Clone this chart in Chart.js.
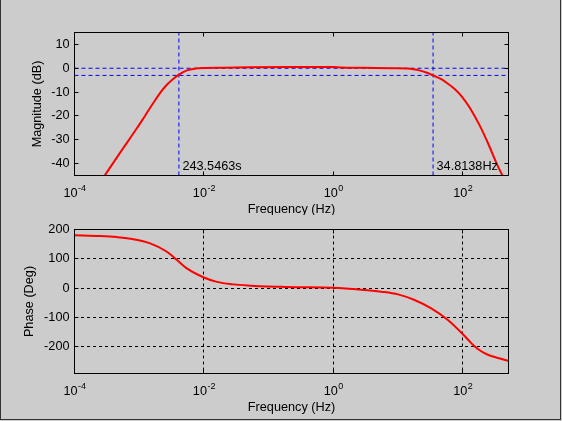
<!DOCTYPE html>
<html>
<head>
<meta charset="utf-8">
<script src="https://cdn.jsdelivr.net/npm/chart.js@4.4.0/dist/chart.umd.min.js"></script>
<style>
  html, body { margin: 0; padding: 0; background: #cccccc; }
  #fig { position: relative; width: 562px; height: 421px; overflow: hidden; background: #cccccc; }
  #fig canvas { position: absolute; left: 0; }
  #frame {
    position: absolute; left: 0; top: 0; width: 561px; height: 420px; box-sizing: border-box;
    border-left: 1px solid #333; border-right: 1px solid #333; border-bottom: 1px solid #333;
  }
</style>
</head>
<body>
<div id="fig">
  <canvas id="mag" width="562" height="215" style="top:0"></canvas>
  <canvas id="phase" width="562" height="206" style="top:215px"></canvas>
  <div id="frame"></div>
</div>
<script>
// Bode plot of a band-pass filter.

const magFreq = [0.00028, 0.000508, 0.00092, 0.00124, 0.00166, 0.00215, 0.00268, 0.00335, 0.00405,
  0.00546, 0.00735, 0.0105, 0.02, 0.05, 0.2, 1, 1.3, 3, 8, 13.7, 17.4, 22, 28, 34.8, 45, 57, 76.6,
  97, 130, 186, 251, 339, 420];
const magDb = [-45.8, -35.4, -25.2, -19.8, -14.5, -10.0, -6.9, -4.5, -2.8,
  -0.9, -0.15, 0.1, 0.2, 0.45, 0.55, 0.5, 0.35, 0.2, 0.05, -0.1, -0.4, -1.0, -1.9, -3.0, -4.4, -6.2, -8.9,
  -11.9, -16.8, -24.4, -32.0, -40.3, -45.5];

const phaseFreq = [1e-4, 0.00025, 0.00045, 0.000817, 0.00148, 0.00268, 0.00383, 0.00546, 0.01, 0.0159,
  0.0287, 0.052, 0.094, 0.157, 0.267, 1, 2.7, 5.5, 10, 18, 32.6, 59, 100, 130, 152, 193, 245, 350, 513];
const phaseDeg = [180, 177.5, 174, 167, 152.5, 124, 96, 67, 36, 21,
  12.5, 8, 5, 4, 3, 1, -5.6, -12.5, -21.7, -41, -69.6, -109, -157, -184, -199, -216, -228, -239, -249];

const xTicks = [1e-4, 1e-2, 1e0, 1e2];
const magTicks = [-40, -30, -20, -10, 0, 10];
const phaseTicks = [-200, -100, 0, 100, 200];

const xMin = 1e-4, xMax = 510;
const cutLow = 1 / 243.5463;   // Hz
const cutHigh = 34.8138;       // Hz
const refLevels = [0, -3];     // dB
const cutLabels = ['243.5463s', '34.8138Hz'];

const FONT = '"Liberation Sans", Arial, Helvetica, sans-serif';
const FS = 12.7;
const SUP = 9;
const RED = '#ff0000';
const BLUE = '#0000ff';

Chart.defaults.font.family = FONT;
Chart.defaults.font.size = FS;
Chart.defaults.color = '#000';

const toXY = (xs, ys) => xs.map((v, i) => ({ x: v, y: ys[i] }));

// MATLAB-ish axes: box, inward ticks, 10^n labels, axis titles
function axesDecor({ xTitle, yTitle, yTitleX, notes }) {
  return {
    id: 'axesDecor',
    afterDraw(chart) {
      const { ctx, chartArea: a, scales: { x, y } } = chart;
      ctx.save();
      ctx.strokeStyle = '#000';
      ctx.lineWidth = 1;
      ctx.setLineDash([]);
      ctx.beginPath();
      x.ticks.forEach(t => {
        const px = Math.round(x.getPixelForValue(t.value) - 0.5) + 0.5;
        ctx.moveTo(px, a.bottom); ctx.lineTo(px, a.bottom - 4);
        ctx.moveTo(px, a.top); ctx.lineTo(px, a.top + 4);
      });
      y.ticks.forEach(t => {
        const py = Math.round(y.getPixelForValue(t.value) - 0.5) + 0.5;
        ctx.moveTo(a.left, py); ctx.lineTo(a.left + 4, py);
        ctx.moveTo(a.right, py); ctx.lineTo(a.right - 4, py);
      });
      ctx.stroke();
      ctx.strokeRect(a.left, a.top, a.right - a.left, a.bottom - a.top);

      ctx.fillStyle = '#000';
      ctx.textBaseline = 'alphabetic';
      ctx.textAlign = 'left';
      x.ticks.forEach(t => {
        const px = x.getPixelForValue(t.value);
        const e = String(Math.round(Math.log10(t.value)));
        ctx.font = FS + 'px ' + FONT;
        const wb = ctx.measureText('10').width;
        ctx.font = SUP + 'px ' + FONT;
        const we = ctx.measureText(e).width;
        const x0 = px - (wb + we) / 2;
        const base = a.bottom + 21;
        ctx.font = FS + 'px ' + FONT;
        ctx.fillText('10', x0, base);
        ctx.font = SUP + 'px ' + FONT;
        ctx.fillText(e, x0 + wb + 0.5, base - 6);
      });

      ctx.font = FS + 'px ' + FONT;
      ctx.textAlign = 'center';
      ctx.fillText(xTitle, (a.left + a.right) / 2, a.bottom + 37.5);

      ctx.save();
      ctx.translate(yTitleX, (a.top + a.bottom) / 2);
      ctx.rotate(-Math.PI / 2);
      ctx.textBaseline = 'middle';
      ctx.fillText(yTitle, 0, 0);
      ctx.restore();

      (notes || []).forEach(n => {
        ctx.textAlign = 'left';
        ctx.fillText(n.text, x.getPixelForValue(n.x) + 3.5, a.bottom - 6);
      });
      ctx.restore();
    }
  };
}

function xScale(axisH, grid) {
  return {
    type: 'logarithmic', min: xMin, max: xMax,
    afterBuildTicks: s => { s.ticks = xTicks.map(v => ({ value: v })); },
    afterFit: s => { s.height = axisH; },
    ticks: { display: false },
    grid: grid ? { color: '#000', lineWidth: 1, drawTicks: false } : { display: false, drawTicks: false },
    border: { display: false, dash: [3, 3] }
  };
}

function yScale(min, max, ticks, grid) {
  return {
    min, max,
    afterBuildTicks: s => { s.ticks = ticks.map(v => ({ value: v })); },
    afterFit: s => { s.width = 74.5; },
    ticks: { padding: 5, color: '#000', font: { family: FONT, size: FS } },
    grid: grid ? { color: '#000', lineWidth: 1, drawTicks: false } : { display: false, drawTicks: false },
    border: { display: false, dash: [3, 3] }
  };
}

const refStyle = { borderColor: BLUE, borderWidth: 1, borderDash: [4, 3], pointRadius: 0, fill: false };

new Chart(document.getElementById('mag'), {
  type: 'line',
  data: {
    datasets: [
      { data: toXY(magFreq, magDb), borderColor: RED, borderWidth: 2, pointRadius: 0,
        cubicInterpolationMode: 'monotone', fill: false },
      ...refLevels.map(v => ({ ...refStyle, data: [{ x: xMin, y: v }, { x: xMax, y: v }] })),
      ...[cutLow, cutHigh].map(v => ({ ...refStyle, data: [{ x: v, y: -45 }, { x: v, y: 15 }] }))
    ]
  },
  options: {
    responsive: false, animation: false,
    layout: { padding: { top: 32.5, right: 53.5, left: 0, bottom: 0 } },
    plugins: { legend: { display: false }, tooltip: { enabled: false } },
    scales: { x: xScale(39.5, false), y: yScale(-45, 15, magTicks, false) }
  },
  plugins: [axesDecor({
    xTitle: 'Frequency (Hz)', yTitle: 'Magnitude (dB)', yTitleX: 37.5,
    notes: [{ x: cutLow, text: cutLabels[0] }, { x: cutHigh, text: cutLabels[1] }]
  })]
});

new Chart(document.getElementById('phase'), {
  type: 'line',
  data: {
    datasets: [
      { data: toXY(phaseFreq, phaseDeg), borderColor: RED, borderWidth: 2, pointRadius: 0,
        cubicInterpolationMode: 'monotone', fill: false }
    ]
  },
  options: {
    responsive: false, animation: false,
    layout: { padding: { top: 14.5, right: 53.5, left: 0, bottom: 0 } },
    plugins: { legend: { display: false }, tooltip: { enabled: false } },
    scales: { x: xScale(47.5, true), y: yScale(-292, 200, phaseTicks, true) }
  },
  plugins: [axesDecor({ xTitle: 'Frequency (Hz)', yTitle: 'Phase (Deg)', yTitleX: 29.5 })]
});
</script>
</body>
</html>
